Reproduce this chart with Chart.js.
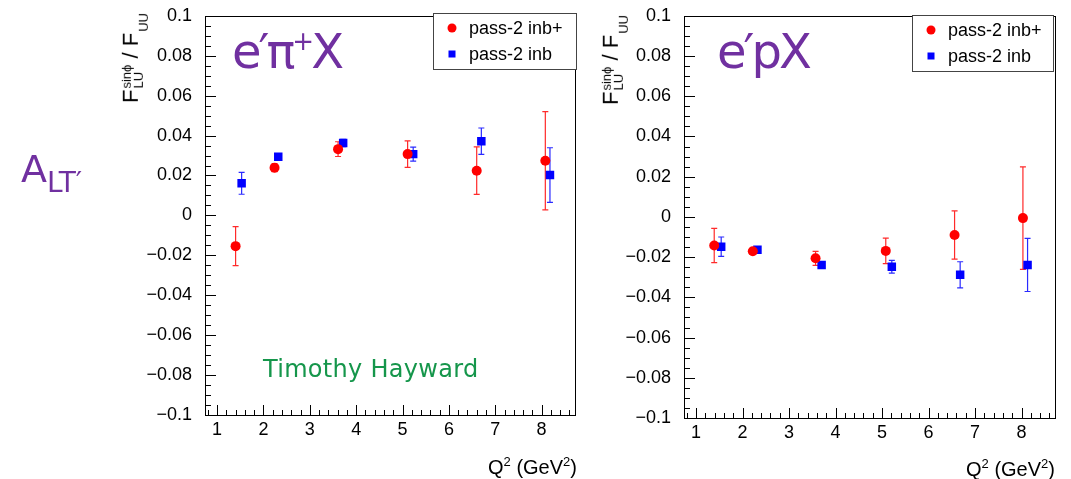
<!DOCTYPE html>
<html>
<head>
<meta charset="utf-8">
<script src="https://cdn.jsdelivr.net/npm/chart.js@4.4.1/dist/chart.umd.min.js"></script>
<style>
  html, body { margin: 0; padding: 0; background: #fff; }
  #page { position: relative; width: 1071px; height: 479px; overflow: hidden; font-family: "Liberation Sans", Arial, sans-serif; }
  .chartbox { position: absolute; top: 0; }
  .hand { position: absolute; white-space: nowrap; line-height: 1; font-family: "DejaVu Sans", sans-serif; color: #7030a0; }
  .ytitle { position: absolute; white-space: nowrap; font-size: 22px; line-height: 1; color: #000; transform: translate(-50%, -50%) rotate(-90deg); }
  .ss { display: inline-block; vertical-align: -5px; line-height: 0.95; font-size: 13px; margin-left: 1px; }
  .ss span { display: block; }
  .xtitle { position: absolute; white-space: nowrap; font-size: 20px; line-height: 1; color: #000; }
  .xtitle sup { font-size: 13px; vertical-align: 8px; }
  .legend { position: absolute; border: 1px solid #444; background: #fff; box-sizing: border-box; }
  .legend .row { position: absolute; left: 0; height: 20px; font-size: 18px; line-height: 20px; white-space: nowrap; color: #000; }
  .legend .mk { position: absolute; top: 50%; transform: translate(-50%, -50%); }
</style>
</head>
<body>
<div id="page">
  <div class="chartbox" style="left:0; width:600px; height:479px;"><canvas id="pip" width="600" height="479"></canvas></div>
  <div class="chartbox" style="left:600px; width:471px; height:479px;"><canvas id="prot" width="471" height="479"></canvas></div>

  <div class="ytitle" style="left:135px; top:58px;">F<span class="ss"><span>sinϕ</span><span>LU</span></span> / F<span class="ss" style="vertical-align:-10px"><span>UU</span></span></div>
  <div class="ytitle" style="left:615px; top:60px;">F<span class="ss"><span>sinϕ</span><span>LU</span></span> / F<span class="ss" style="vertical-align:-10px"><span>UU</span></span></div>

  <div class="xtitle" style="right:494px; top:455px;">Q<sup>2</sup> (GeV<sup>2</sup>)</div>
  <div class="xtitle" style="right:16px; top:457px;">Q<sup>2</sup> (GeV<sup>2</sup>)</div>

  <div class="hand" style="left:232px; top:27px; font-size:48px; letter-spacing:-3px;">e′π<span style="font-size:26px; vertical-align:18px;">+</span>X</div>
  <div class="hand" style="left:717px; top:27px; font-size:48px; letter-spacing:-3px;">e′pX</div>
  <div class="hand" style="left:21px; top:150px; font-size:38px;">A<span style="font-size:28px; vertical-align:-10px;">LT′</span></div>
  <div class="hand" style="left:263px; top:357px; font-size:24px; color:#15964b; letter-spacing:0.3px;">Timothy Hayward</div>

  <div class="legend" id="legPip" style="left:433px; top:13px; width:144px; height:57px;"></div>
  <div class="legend" id="legProt" style="left:912px; top:15px; width:142px; height:57px;"></div>
</div>

<script>
// series names and colours
const seriesNames = ["pass-2 inb+", "pass-2 inb"];
const seriesColors = ["#ff0000", "#0000ff"];

// axis ticks
const xTicks = [1, 2, 3, 4, 5, 6, 7, 8];
const yTicks = [-0.1, -0.08, -0.06, -0.04, -0.02, 0, 0.02, 0.04, 0.06, 0.08, 0.1];

// e'pi+X : pass-2 inb+ (red)
const pipRedQ2 = [1.40, 2.24, 3.61, 5.11, 6.60, 8.08];
const pipRedVal = [-0.0154, 0.0239, 0.0332, 0.0307, 0.0224, 0.0274];
const pipRedErr = [0.0098, 0.0020, 0.0037, 0.0066, 0.0119, 0.0246];
// e'pi+X : pass-2 inb (blue)
const pipBlueQ2 = [1.53, 2.32, 3.72, 5.23, 6.70, 8.18];
const pipBlueVal = [0.0161, 0.0294, 0.0363, 0.0307, 0.0372, 0.0202];
const pipBlueErr = [0.0055, 0.0015, 0.0018, 0.0035, 0.0066, 0.0137];

// e'pX : pass-2 inb+ (red)
const protRedQ2 = [1.39, 2.22, 3.57, 5.08, 6.56, 8.03];
const protRedVal = [-0.0142, -0.0171, -0.0206, -0.0169, -0.0090, -0.0006];
const protRedErr = [0.0085, 0.0015, 0.0035, 0.0063, 0.0120, 0.0255];
// e'pX : pass-2 inb (blue)
const protBlueQ2 = [1.54, 2.32, 3.70, 5.21, 6.68, 8.13];
const protBlueVal = [-0.0148, -0.0163, -0.0239, -0.0248, -0.0288, -0.0239];
const protBlueErr = [0.0048, 0.0010, 0.0012, 0.0032, 0.0065, 0.0132];

function toPoints(q2, val, err) {
  return q2.map((q, i) => ({ x: q, y: val[i], err: err[i] }));
}

function fmtTick(v) {
  const r = Math.round(v * 1000) / 1000;
  if (r === 0) return "0";
  return (r < 0 ? "\u2212" : "") + Math.abs(r).toString();
}

// error bars, frame and ROOT-like inward ticks
const rootStyle = {
  id: "rootStyle",
  beforeDatasetsDraw(chart) {
    const { ctx, scales: { x, y } } = chart;
    ctx.save();
    ctx.lineWidth = 1.2;
    chart.data.datasets.forEach((ds) => {
      ctx.strokeStyle = ds.errColor;
      ds.data.forEach((p) => {
        const px = x.getPixelForValue(p.x);
        const top = y.getPixelForValue(p.y + p.err);
        const bot = y.getPixelForValue(p.y - p.err);
        ctx.beginPath();
        ctx.moveTo(px, top); ctx.lineTo(px, bot);
        ctx.moveTo(px - 3, top); ctx.lineTo(px + 3, top);
        ctx.moveTo(px - 3, bot); ctx.lineTo(px + 3, bot);
        ctx.stroke();
      });
    });
    ctx.restore();
  },
  afterDraw(chart) {
    const { ctx, chartArea: a, scales: { x, y } } = chart;
    ctx.save();
    ctx.strokeStyle = "#000";
    ctx.lineWidth = 1;
    ctx.strokeRect(Math.round(a.left) + 0.5, Math.round(a.top) + 0.5, Math.round(a.right - a.left), Math.round(a.bottom - a.top));
    ctx.beginPath();
    // x ticks, minor every 0.2
    for (let i = 0; i <= 50; i++) {
      const v = i / 5;
      if (v < x.min || v > x.max) continue;
      const px = Math.round(x.getPixelForValue(v)) + 0.5;
      const len = i % 5 === 0 ? 10 : 5;
      ctx.moveTo(px, a.bottom); ctx.lineTo(px, a.bottom - len);
    }
    // y ticks, minor every 0.005
    for (let i = -20; i <= 20; i++) {
      const v = i * 0.005;
      const py = Math.round(y.getPixelForValue(v)) + 0.5;
      const len = i % 4 === 0 ? 11 : 6;
      ctx.moveTo(a.left, py); ctx.lineTo(a.left + len, py);
    }
    ctx.stroke();
    ctx.restore();
  }
};

function makeChart(id, red, blue, pad, xAxisH) {
  new Chart(document.getElementById(id), {
    type: "scatter",
    data: {
      datasets: [
        { label: seriesNames[0], data: red, pointStyle: "circle", pointRadius: 5, backgroundColor: seriesColors[0], borderColor: seriesColors[0], borderWidth: 0, errColor: "#ff2a2a" },
        { label: seriesNames[1], data: blue, pointStyle: "rect", pointRadius: 6, backgroundColor: seriesColors[1], borderColor: seriesColors[1], borderWidth: 0, errColor: "#2a2aff" }
      ]
    },
    options: {
      responsive: false,
      animation: false,
      layout: { padding: pad },
      plugins: { legend: { display: false }, tooltip: { enabled: false } },
      scales: {
        x: {
          type: "linear", min: 0.74, max: 8.72,
          grid: { display: false }, border: { display: false },
          ticks: { color: "#000", font: { family: "Liberation Sans", size: 18 }, padding: -4, autoSkip: false, maxRotation: 0, callback: (v) => fmtTick(v) },
          afterBuildTicks: (s) => { s.ticks = xTicks.map((v) => ({ value: v })); },
          afterFit: (s) => { s.height = xAxisH; }
        },
        y: {
          type: "linear", min: -0.1, max: 0.1,
          grid: { display: false }, border: { display: false },
          ticks: { color: "#000", font: { family: "Liberation Sans", size: 18 }, padding: 5, autoSkip: false, callback: (v) => fmtTick(v) },
          afterBuildTicks: (s) => { s.ticks = yTicks.map((v) => ({ value: v })); },
          afterFit: (s) => { s.width = 62; }
        }
      }
    },
    plugins: [rootStyle]
  });
}

makeChart("pip", toPoints(pipRedQ2, pipRedVal, pipRedErr), toPoints(pipBlueQ2, pipBlueVal, pipBlueErr),
  { left: 143, right: 25, top: 13, bottom: 0 }, 64);
makeChart("prot", toPoints(protRedQ2, protRedVal, protRedErr), toPoints(protBlueQ2, protBlueVal, protBlueErr),
  { left: 22, right: 16, top: 15, bottom: 0 }, 61);

// legends built from the series names
function makeLegend(id) {
  const box = document.getElementById(id);
  seriesNames.forEach((name, i) => {
    const row = document.createElement("div");
    row.className = "row";
    row.style.top = (i === 0 ? 4 : 30) + "px";
    row.style.width = "100%";
    const mk = document.createElement("div");
    mk.className = "mk";
    mk.style.left = "18px";
    mk.style.background = seriesColors[i];
    if (i === 0) { mk.style.width = "9px"; mk.style.height = "9px"; mk.style.borderRadius = "50%"; }
    else { mk.style.width = "7px"; mk.style.height = "7px"; }
    const tx = document.createElement("span");
    tx.textContent = name;
    tx.style.position = "absolute";
    tx.style.left = "35px";
    row.appendChild(mk);
    row.appendChild(tx);
    box.appendChild(row);
  });
}
makeLegend("legPip");
makeLegend("legProt");
</script>
</body>
</html>
